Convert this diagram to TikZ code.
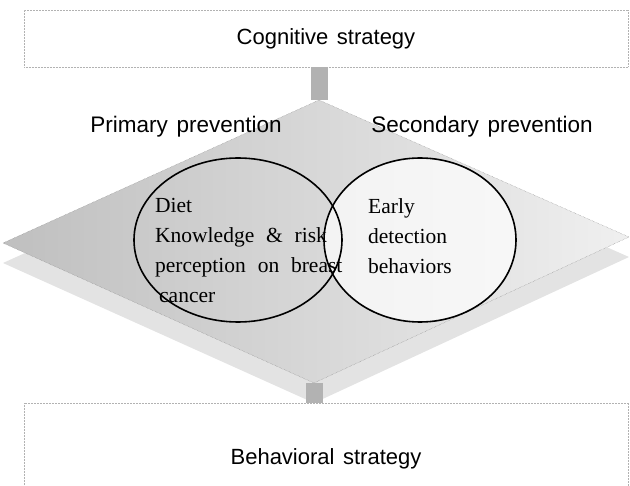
\documentclass[tikz,border=0pt]{standalone}
\usepackage{fontspec}
\setmainfont{Liberation Serif}
\newfontfamily\labelsans[WordSpace=1.4]{Liberation Sans}
\newfontfamily\bodyserif[WordSpace=2.2]{Liberation Serif}
\usetikzlibrary{shapes.geometric}

\tikzset{
  stratbox/.style={draw=gray!60,densely dotted,line width=.5pt,minimum width=604pt,inner sep=0pt,
    font=\labelsans\fontsize{22}{26}\selectfont},
  prevlabel/.style={font=\labelsans\fontsize{22.5}{27}\selectfont,inner sep=0pt},
  venn/.style={ellipse,draw=black,line width=1.6pt,inner sep=0pt},
  venntext/.style={anchor=north west,align=left,inner sep=0pt,font=\bodyserif\fontsize{21.5}{30}\selectfont},
  stem/.style={draw=gray!60,line width=17pt},
}

\begin{document}
\begin{tikzpicture}[x=1pt,y=-1pt]
    \useasboundingbox (0,0) rectangle (630,486);
    % plane ==================================================
    \coordinate (dtop)   at (319,100);
    \coordinate (dleft)  at (3,243);
    \coordinate (dright) at (629,237);
    \coordinate (dbot)   at (314,383);
    \fill[gray!22] (3,263) -- (319,120) -- (629,257) -- (314,403) -- cycle;
    \draw[gray,densely dotted,left color=gray!50,middle color=gray!32,right color=gray!12,shading angle=90]
        (dleft) -- (dtop) -- (dright) -- (dbot) -- cycle;
    % strategies =============================================
    \node[stratbox,minimum height=57pt] (cog) at (326,38.5) {Cognitive strategy};
    \node[stratbox,minimum height=112pt] (beh) at (326,459) {Behavioral strategy};
    \draw[stem] (cog.south -| dtop) -- (dtop);
    \draw[stem] (dbot) -- (beh.north -| dbot);
    % prevention =============================================
    \node[prevlabel] (prim) at (186,127) {Primary prevention};
    \node[prevlabel] (sec)  at (482,127) {Secondary prevention};
    \node[venn,fill=white,fill opacity=.7,minimum width=192pt,minimum height=164pt] (seccirc) at (420,240) {};
    \node[venn,minimum width=208pt,minimum height=164pt] (primcirc) at (238,240) {};
    \node[venntext] (primtext) at (155,198) {Diet\\Knowledge \& risk\\perception on breast\\\hspace{4pt}cancer};
    \node[venntext] (sectext)  at (368,198) {Early\\detection\\behaviors};
\end{tikzpicture}
\end{document}
